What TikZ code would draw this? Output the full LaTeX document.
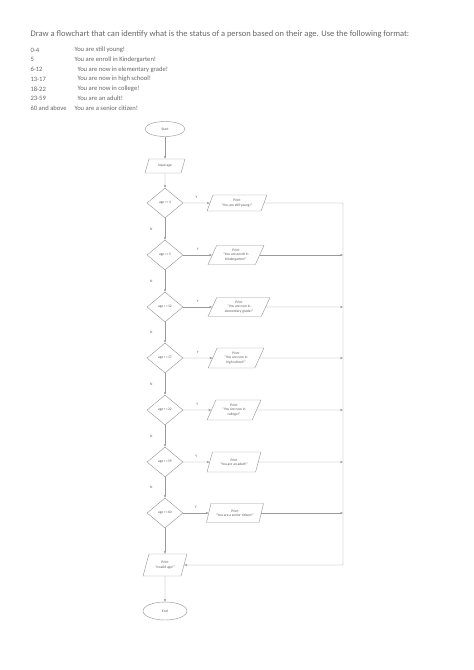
\documentclass[tikz,border=0pt]{standalone}
\usepackage{fontspec}
\setmainfont{Carlito}
\usetikzlibrary{shapes.geometric,arrows.meta}

\begin{document}
\begin{tikzpicture}[x=1pt, y=-1pt,
		line/.style={draw=black!40, line width=0.45pt},
		flow/.style={line, -{Stealth[length=3pt, width=2.4pt]}},
		tiny/.style={font=\fontsize{3.6}{4.2}\selectfont, text=black!65},
		terminal/.style={ellipse, line, tiny, inner sep=0pt},
		inout/.style={trapezium, trapezium left angle=65, trapezium right angle=115, trapezium stretches=true, line, tiny, align=center, inner sep=0.5pt},
		decision/.style={diamond, line, tiny, inner sep=0pt, minimum width=36, minimum height=30},
		yesno/.style={tiny},
		row/.style={anchor=west, font=\fontsize{6.6}{8}\selectfont, text=black!60}]
			%%%%% START %%%%%
			
			\useasboundingbox (0, 0) rectangle (474, 670);
			
			\node[anchor=west, font=\fontsize{8.5}{10}\selectfont, text=black!60] (task) at (27, 34) {Draw a flowchart that can identify what is the status of a person based on their age. Use the following format:};
			
			\node[row] (r1a) at (27, 50) {0-4};
			\node[row] (r1b) at (71, 50) {You are still young!};
			\node[row] (r2a) at (27, 59.7) {5};
			\node[row] (r2b) at (71, 59.7) {You are enroll in Kindergarten!};
			\node[row] (r3a) at (27, 69.4) {6-12};
			\node[row] (r3b) at (74, 69.4) {You are now in elementary grade!};
			\node[row] (r4a) at (27, 79.1) {13-17};
			\node[row] (r4b) at (74, 79.1) {You are now in high school!};
			\node[row] (r5a) at (27, 88.8) {18-22};
			\node[row] (r5b) at (74, 88.8) {You are now in college!};
			\node[row] (r6a) at (27, 98.5) {23-59};
			\node[row] (r6b) at (74, 98.5) {You are an adult!};
			\node[row] (r7a) at (27, 108.2) {60 and above};
			\node[row] (r7b) at (71, 108.2) {You are a senior citizen!};
			
			\node[terminal, minimum width=40, minimum height=15] (start) at (165, 129) {Start};
			\node[inout, minimum width=40, minimum height=14] (getage) at (165, 166) {Input age};
			
			\node[decision] (d1) at (165, 203) {age\,<=\,4};
			\node[decision] (d2) at (165, 255) {age\,==\,5};
			\node[decision] (d3) at (165, 307) {age\,<=\,12};
			\node[decision] (d4) at (165, 358) {age\,<=\,17};
			\node[decision] (d5) at (165, 410) {age\,<=\,22};
			\node[decision] (d6) at (165, 462) {age\,<=\,59};
			\node[decision] (d7) at (165, 513) {age\,>=\,60};
			
			\node[inout, minimum width=60, minimum height=16] (o1) at (237, 203) {Print\\``You are still young!''};
			\node[inout, minimum width=56, minimum height=19] (o2) at (236, 255) {Print\\``You are enroll in\\Kindergarten!''};
			\node[inout, minimum width=62, minimum height=19] (o3) at (239, 307) {Print\\``You are now in\\elementary grade!''};
			\node[inout, minimum width=56, minimum height=20] (o4) at (236, 358) {Print\\``You are now in\\high school!''};
			\node[inout, minimum width=54, minimum height=20] (o5) at (234, 410) {Print\\``You are now in\\college!''};
			\node[inout, minimum width=54, minimum height=20] (o6) at (234, 462) {Print\\``You are an adult!''};
			\node[inout, minimum width=57, minimum height=19] (o7) at (235, 513) {Print\\``You are a senior citizen!''};
			
			\node[inout, minimum width=44, minimum height=22] (invalid) at (165, 565) {Print\\``Invalid age!''};
			\node[terminal, minimum width=44, minimum height=18] (end) at (165, 611) {End};
			
			\coordinate (j1) at (343, 203);
			\coordinate (j2) at (343, 255);
			\coordinate (j3) at (343, 307);
			\coordinate (j4) at (343, 358);
			\coordinate (j5) at (343, 410);
			\coordinate (j6) at (343, 462);
			\coordinate (j7) at (343, 513);
			\coordinate (j8) at (343, 565);
			
			\draw[flow] (start) -- (getage);
			\draw[flow] (getage) -- (d1);
			
			\draw[flow] (d1) -- node[yesno, left=9pt] {N} (d2);
			\draw[flow] (d2) -- node[yesno, left=9pt] {N} (d3);
			\draw[flow] (d3) -- node[yesno, left=9pt] {N} (d4);
			\draw[flow] (d4) -- node[yesno, left=9pt] {N} (d5);
			\draw[flow] (d5) -- node[yesno, left=9pt] {N} (d6);
			\draw[flow] (d6) -- node[yesno, left=9pt] {N} (d7);
			\draw[flow] (d7) -- (invalid);
			\draw[flow] (invalid) -- (end);
			
			\draw[flow] (d1) -- node[yesno, above=1pt] {Y} (o1);
			\draw[flow] (d2) -- node[yesno, above=1pt] {Y} (o2);
			\draw[flow] (d3) -- node[yesno, above=1pt] {Y} (o3);
			\draw[flow] (d4) -- node[yesno, above=1pt] {Y} (o4);
			\draw[flow] (d5) -- node[yesno, above=1pt] {Y} (o5);
			\draw[flow] (d6) -- node[yesno, above=1pt] {Y} (o6);
			\draw[flow] (d7) -- node[yesno, above=1pt] {Y} (o7);
			
			\draw[flow] (o1.east) -- (j1) -- (j8) -- (invalid.east);
			\draw[flow] (o2.east) -- (j2);
			\draw[flow] (o3.east) -- (j3);
			\draw[flow] (o4.east) -- (j4);
			\draw[flow] (o5.east) -- (j5);
			\draw[flow] (o6.east) -- (j6);
			\draw[flow] (o7.east) -- (j7);
			
			%%%%% END %%%%%
		\end{tikzpicture}
\end{document}
